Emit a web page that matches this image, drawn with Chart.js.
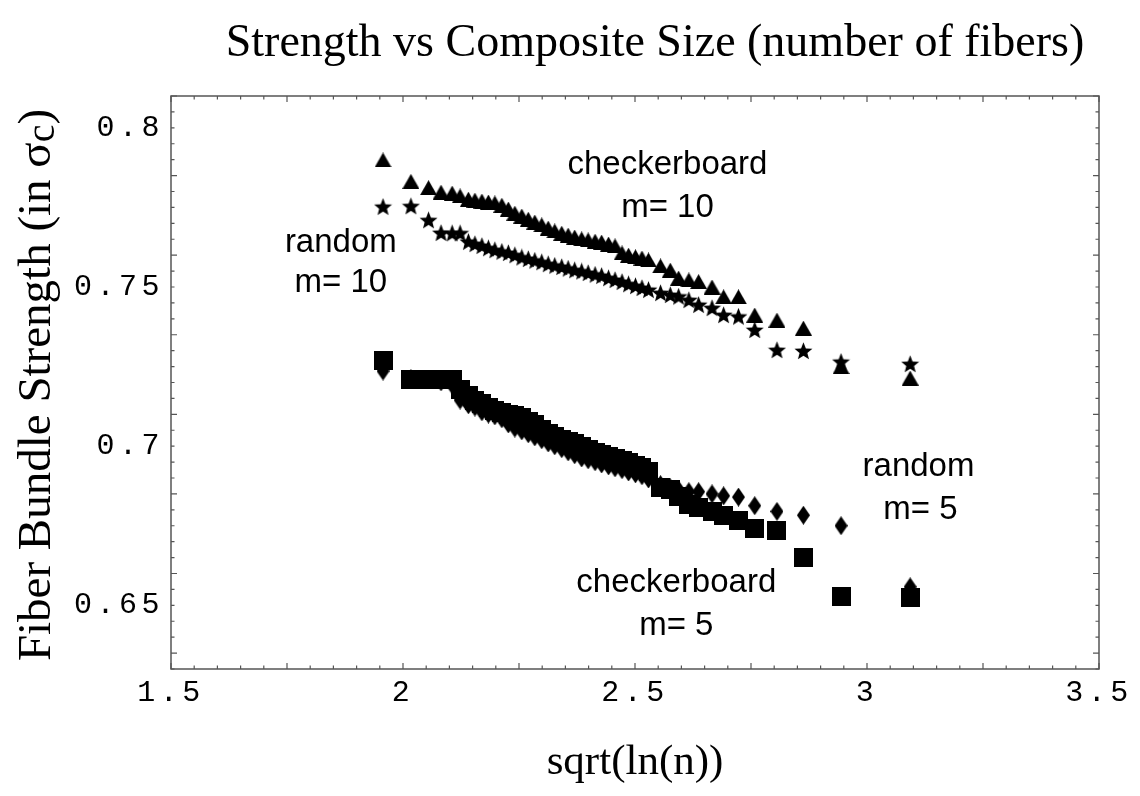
<!DOCTYPE html>
<html>
<head>
<meta charset="utf-8">
<script src="https://cdn.jsdelivr.net/npm/chart.js@4/dist/chart.umd.min.js"></script>
<style>
  html, body { margin: 0; padding: 0; background: #fff; }
  #wrap { width: 1140px; height: 796px; }
</style>
</head>
<body>
<div id="wrap"><canvas id="strengthChart" width="1140" height="796"></canvas></div>
<script>
// sqrt(ln(n)) positions shared by all four series
var sqrtLnN = [1.957, 2.017, 2.055, 2.082, 2.106, 2.123, 2.141, 2.155, 2.170, 2.184,
  2.198, 2.213, 2.227, 2.241, 2.256, 2.270, 2.284, 2.299, 2.313, 2.327,
  2.342, 2.356, 2.370, 2.385, 2.399, 2.414, 2.428, 2.443, 2.457, 2.472,
  2.486, 2.501, 2.515, 2.529, 2.555, 2.576, 2.594, 2.616, 2.637, 2.666,
  2.691, 2.723, 2.758, 2.806, 2.863, 2.944, 3.093];

var checkerM10 = [0.7899, 0.7832, 0.7812, 0.7798, 0.7795, 0.7786, 0.7776, 0.7773, 0.7770, 0.7767,
  0.7764, 0.7757, 0.7745, 0.7732, 0.7723, 0.7713, 0.7704, 0.7695, 0.7685, 0.7676,
  0.7669, 0.7663, 0.7657, 0.7651, 0.7648, 0.7644, 0.7641, 0.7635, 0.7629, 0.7607,
  0.7600, 0.7595, 0.7591, 0.7585, 0.7566, 0.7553, 0.7528, 0.7522, 0.7517, 0.7500,
  0.7469, 0.7469, 0.7412, 0.7396, 0.7371, 0.7250, 0.7214];

var randomM10 = [0.7752, 0.7754, 0.7710, 0.7670, 0.7669, 0.7669, 0.7642, 0.7635, 0.7629, 0.7622,
  0.7616, 0.7611, 0.7607, 0.7600, 0.7593, 0.7588, 0.7583, 0.7578, 0.7572, 0.7567,
  0.7563, 0.7558, 0.7553, 0.7549, 0.7544, 0.7539, 0.7535, 0.7528, 0.7522, 0.7516,
  0.7509, 0.7503, 0.7497, 0.7491, 0.7481, 0.7475, 0.7470, 0.7459, 0.7444, 0.7434,
  0.7412, 0.7407, 0.7365, 0.7302, 0.7299, 0.7265, 0.7258];

var randomM5 = [0.7236, 0.7211, 0.7208, 0.7202, 0.7192, 0.7145, 0.7130, 0.7123, 0.7108, 0.7101,
  0.7095, 0.7086, 0.7070, 0.7057, 0.7048, 0.7039, 0.7029, 0.7020, 0.7010, 0.7001,
  0.6992, 0.6982, 0.6973, 0.6963, 0.6957, 0.6951, 0.6944, 0.6938, 0.6932, 0.6926,
  0.6919, 0.6913, 0.6907, 0.6897, 0.6879, 0.6869, 0.6863, 0.6857, 0.6857, 0.6850,
  0.6844, 0.6840, 0.6813, 0.6795, 0.6783, 0.6750, 0.6558];

var checkerM5 = [0.7268, 0.7210, 0.7210, 0.7210, 0.7208, 0.7178, 0.7158, 0.7142, 0.7133, 0.7123,
  0.7111, 0.7105, 0.7101, 0.7095, 0.7089, 0.7079, 0.7067, 0.7051, 0.7039, 0.7029,
  0.7020, 0.7014, 0.7007, 0.6998, 0.6988, 0.6979, 0.6973, 0.6966, 0.6960, 0.6954,
  0.6948, 0.6938, 0.6932, 0.6919, 0.6869, 0.6863, 0.6841, 0.6816, 0.6806, 0.6794,
  0.6781, 0.6766, 0.6740, 0.6734, 0.6649, 0.6527, 0.6524];

var xTicks = [1.5, 2, 2.5, 3, 3.5];
var xTickLabels = ['1.5', '2', '2.5', '3', '3.5'];
var yTicks = [0.65, 0.7, 0.75, 0.8];
var yTickLabels = ['0.65', '0.7', '0.75', '0.8'];

// in-plot captions, placed in data coordinates
var noteText = ['checkerboard', 'm= 10', 'random', 'm= 10', 'random', 'm= 5', 'checkerboard', 'm= 5'];
var noteX = [2.570, 2.570, 1.866, 1.866, 3.111, 3.115, 2.589, 2.589];
var noteY = [0.7883, 0.7748, 0.7638, 0.7512, 0.6935, 0.6800, 0.6571, 0.6436];

(function () {
  function marker(w, h, draw) {
    var c = document.createElement('canvas');
    c.width = w; c.height = h;
    var g = c.getContext('2d');
    g.fillStyle = '#000';
    g.beginPath();
    draw(g, w, h);
    g.fill();
    return c;
  }

  var triangle = marker(17, 15, function (g, w, h) {
    g.moveTo(w / 2, 0); g.lineTo(w, h); g.lineTo(0, h); g.closePath();
  });
  var star = marker(19, 18, function (g) {
    for (var i = 0; i < 10; i++) {
      var r = i % 2 ? 4.1 : 9.4;
      var a = -Math.PI / 2 + i * Math.PI / 5;
      g.lineTo(9.5 + r * Math.cos(a), 9.7 + r * Math.sin(a));
    }
    g.closePath();
  });
  var diamond = marker(13, 19, function (g, w, h) {
    g.moveTo(w / 2, 0); g.lineTo(w, h / 2); g.lineTo(w / 2, h); g.lineTo(0, h / 2); g.closePath();
  });
  var square = marker(19, 19, function (g, w, h) { g.rect(0, 0, w, h); });

  function pts(ys) {
    return sqrtLnN.map(function (x, i) { return { x: x, y: ys[i] }; });
  }

  var serif = '"Liberation Serif", "Times New Roman", serif';

  var frameAndText = {
    id: 'frameAndText',
    beforeDraw: function (chart) {
      chart.ctx.letterSpacing = '4.5px'; // wide mono tick labels
    },
    afterDraw: function (chart) {
      var ctx = chart.ctx, a = chart.chartArea;
      var xs = chart.scales.x, ys = chart.scales.y;
      ctx.save();
      ctx.letterSpacing = '0px';
      ctx.strokeStyle = '#555';
      ctx.lineWidth = 1.5;
      ctx.strokeRect(a.left, a.top, a.right - a.left, a.bottom - a.top);

      // inward ticks on all four sides
      ctx.lineWidth = 1.2;
      ctx.beginPath();
      var i, p, len;
      for (i = 0; i <= 40; i++) {
        p = xs.getPixelForValue(1.5 + i * 0.05);
        len = i % 5 === 0 ? 6 : 3.5;
        ctx.moveTo(p, a.bottom); ctx.lineTo(p, a.bottom - len);
        ctx.moveTo(p, a.top); ctx.lineTo(p, a.top + len);
      }
      for (i = 0; i <= 36; i++) {
        p = ys.getPixelForValue(0.63 + i * 0.005);
        len = (i + 4) % 5 === 0 ? 6 : 3.5;
        ctx.moveTo(a.left, p); ctx.lineTo(a.left + len, p);
        ctx.moveTo(a.right, p); ctx.lineTo(a.right - len, p);
      }
      ctx.stroke();

      ctx.fillStyle = '#000';
      ctx.textAlign = 'center';
      ctx.textBaseline = 'middle';

      ctx.font = '46px ' + serif;
      ctx.fillText('Strength vs Composite Size (number of fibers)', 655, 44);
      ctx.font = '43px ' + serif;
      ctx.fillText('sqrt(ln(n))', 635, 763);

      // rotated y title with subscript c
      ctx.save();
      ctx.translate(38, 385);
      ctx.rotate(-Math.PI / 2);
      ctx.textAlign = 'left';
      var main = 'Fiber Bundle Strength (in \u03C3', sub = 'c', tail = ')';
      ctx.font = '47px ' + serif;
      var w1 = ctx.measureText(main).width, w3 = ctx.measureText(tail).width;
      ctx.font = '40px ' + serif;
      var w2 = ctx.measureText(sub).width;
      var x0 = -(w1 + w2 + w3) / 2;
      ctx.font = '47px ' + serif;
      ctx.fillText(main, x0, 0);
      ctx.fillText(tail, x0 + w1 + w2, 0);
      ctx.font = '40px ' + serif;
      ctx.fillText(sub, x0 + w1, 5);
      ctx.restore();

      ctx.font = '33px "Liberation Sans", Arial, sans-serif';
      for (i = 0; i < noteText.length; i++) {
        ctx.fillText(noteText[i], xs.getPixelForValue(noteX[i]), ys.getPixelForValue(noteY[i]));
      }
      ctx.restore();
    }
  };

  var tickFont = { family: '"Liberation Mono", "Courier New", monospace', size: 30 };

  new Chart(document.getElementById('strengthChart'), {
    type: 'scatter',
    data: {
      datasets: [
        { label: 'checkerboard m=5', data: pts(checkerM5), pointStyle: square, pointRadius: 10 },
        { label: 'random m=5', data: pts(randomM5), pointStyle: diamond, pointRadius: 9 },
        { label: 'random m=10', data: pts(randomM10), pointStyle: star, pointRadius: 9 },
        { label: 'checkerboard m=10', data: pts(checkerM10), pointStyle: triangle, pointRadius: 9 }
      ]
    },
    options: {
      responsive: false,
      animation: false,
      layout: { padding: { top: 96, right: 41, left: 0, bottom: 0 } },
      plugins: { legend: { display: false }, tooltip: { enabled: false } },
      scales: {
        x: {
          type: 'linear', min: 1.5, max: 3.5,
          afterBuildTicks: function (s) { s.ticks = xTicks.map(function (v) { return { value: v }; }); },
          afterFit: function (s) { s.height = 127; },
          grid: { display: false, drawTicks: false }, border: { display: false },
          ticks: {
            color: '#000', font: tickFont, padding: 6, maxRotation: 0, autoSkip: false,
            callback: function (v, i) { return xTickLabels[i]; }
          }
        },
        y: {
          type: 'linear', min: 0.63, max: 0.81,
          afterBuildTicks: function (s) { s.ticks = yTicks.map(function (v) { return { value: v }; }); },
          afterFit: function (s) { s.width = 171; },
          grid: { display: false, drawTicks: false }, border: { display: false },
          ticks: {
            color: '#000', font: tickFont, padding: 7, autoSkip: false,
            callback: function (v, i) { return yTickLabels[i]; }
          }
        }
      }
    },
    plugins: [frameAndText]
  });
})();
</script>
</body>
</html>
